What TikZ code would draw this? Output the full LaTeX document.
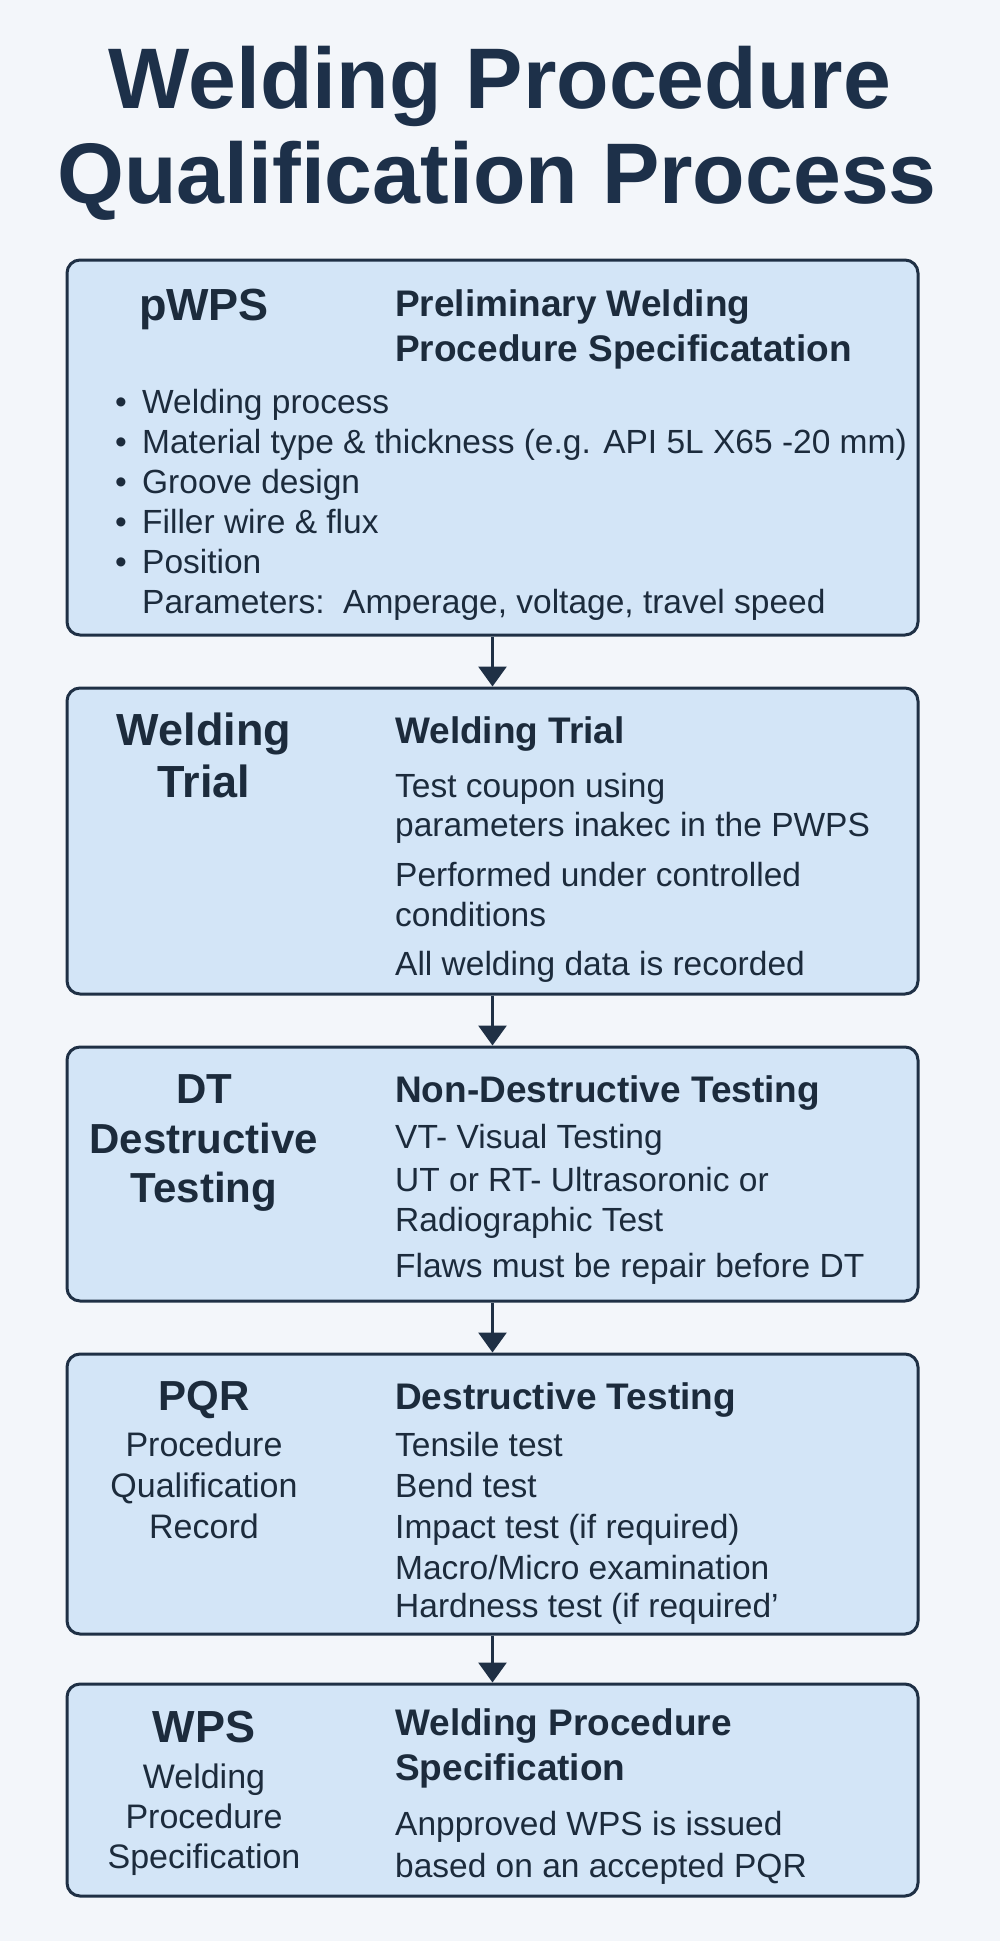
\documentclass[tikz,border=0pt]{standalone}
\usepackage{fontspec}
\setmainfont{Liberation Sans}
\usetikzlibrary{arrows.meta}
\definecolor{bg}{HTML}{F3F6FA}
\definecolor{boxfill}{HTML}{D3E5F7}
\definecolor{edge}{HTML}{1F3045}
\definecolor{ink}{HTML}{1C2B3C}
\definecolor{titleink}{HTML}{1D3049}
\begin{document}
\begin{tikzpicture}[x=1pt,y=-1pt,
  stage/.style={draw=edge, line width=3pt, fill=boxfill, rounded corners=13pt, inner sep=0pt, minimum width=851pt},
  ttl/.style={font=\fontsize{86}{90}\selectfont\bfseries, text=titleink, inner sep=0pt, anchor=base},
  head/.style={font=\fontsize{37}{40}\selectfont\bfseries, text=ink, inner sep=0pt, anchor=base west},
  body/.style={font=\fontsize{33.5}{40}\selectfont, text=ink, inner sep=0pt, anchor=base west},
  tag/.style={font=\fontsize{42}{46}\selectfont\bfseries, text=ink, inner sep=0pt, anchor=base},
  bigtag/.style={tag, font=\fontsize{45}{48}\selectfont\bfseries},
  subtag/.style={font=\fontsize{34}{40}\selectfont, text=ink, inner sep=0pt, anchor=base},
  flow/.style={draw=edge, line width=3pt, -{Triangle[width=28pt,length=20pt]}}
]
\fill[bg] (0,0) rectangle (1000,1941);
\useasboundingbox (0,0) rectangle (1000,1941);

% title
\node[ttl] (t1) at (500,108) {Welding Procedure};
\node[ttl] (t2) at (497,203) {Qualification Process};

% boxes
\node[stage, minimum height=375pt] (b1) at (492.5,447.5) {};
\node[stage, minimum height=306pt] (b2) at (492.5,841) {};
\node[stage, minimum height=254pt] (b3) at (492.5,1174) {};
\node[stage, minimum height=280pt] (b4) at (492.5,1494) {};
\node[stage, minimum height=212pt] (b5) at (492.5,1790) {};

% arrows
\draw[flow] (b1.south) -- (b2.north);
\draw[flow] (b2.south) -- (b3.north);
\draw[flow] (b3.south) -- (b4.north);
\draw[flow] (b4.south) -- (b5.north);

% box 1
\node[bigtag] (l1) at (204,320) {pWPS};
\node[head] (h1a) at (395,316) {Preliminary Welding};
\node[head] (h1b) at (395,361) {Procedure Specificatation};
\node[body] (p1a) at (115,413) {\makebox[27pt][l]{•}Welding process};
\node[body] (p1b) at (115,453) {\makebox[27pt][l]{•}Material type \& thickness (e.g. API 5L X65 -20 mm)};
\node[body] (p1c) at (115,493) {\makebox[27pt][l]{•}Groove design};
\node[body] (p1d) at (115,533) {\makebox[27pt][l]{•}Filler wire \& flux};
\node[body] (p1e) at (115,573) {\makebox[27pt][l]{•}Position};
\node[body] (p1f) at (142,613) {Parameters:\ \ Amperage, voltage, travel speed};

% box 2
\node[bigtag] (l2a) at (204,745) {Welding};
\node[bigtag] (l2b) at (204,797) {Trial};
\node[head] (h2) at (395,743) {Welding Trial};
\node[body] (p2a) at (395,797) {Test coupon using};
\node[body] (p2b) at (395,836) {parameters inakec in the PWPS};
\node[body] (p2c) at (395,886) {Performed under controlled};
\node[body] (p2d) at (395,926) {conditions};
\node[body] (p2e) at (395,975) {All welding data is recorded};

% box 3
\node[tag] (l3a) at (204,1103) {DT};
\node[tag] (l3b) at (204,1153) {Destructive};
\node[tag] (l3c) at (204,1202) {Testing};
\node[head] (h3) at (395,1102) {Non-Destructive Testing};
\node[body] (p3a) at (395,1148) {VT- Visual Testing};
\node[body] (p3b) at (395,1191) {UT or RT- Ultrasoronic or};
\node[body] (p3c) at (395,1231) {Radiographic Test};
\node[body] (p3d) at (395,1277) {Flaws must be repair before DT};

% box 4
\node[tag] (l4a) at (204,1410) {PQR};
\node[subtag] (l4b) at (204,1456) {Procedure};
\node[subtag] (l4c) at (204,1497) {Qualification};
\node[subtag] (l4d) at (204,1538) {Record};
\node[head] (h4) at (395,1409) {Destructive Testing};
\node[body] (p4a) at (395,1456) {Tensile test};
\node[body] (p4b) at (395,1497) {Bend test};
\node[body] (p4c) at (395,1538) {Impact test (if required)};
\node[body] (p4d) at (395,1579) {Macro/Micro examination};
\node[body] (p4e) at (395,1617) {Hardness test (if required’};

% box 5
\node[bigtag] (l5a) at (204,1742) {WPS};
\node[subtag] (l5b) at (204,1788) {Welding};
\node[subtag] (l5c) at (204,1828) {Procedure};
\node[subtag] (l5d) at (204,1868) {Specification};
\node[head] (h5a) at (395,1735) {Welding Procedure};
\node[head] (h5b) at (395,1780) {Specification};
\node[body] (p5a) at (395,1835) {Anpproved WPS is issued};
\node[body] (p5b) at (395,1877) {based on an accepted PQR};
\end{tikzpicture}
\end{document}
